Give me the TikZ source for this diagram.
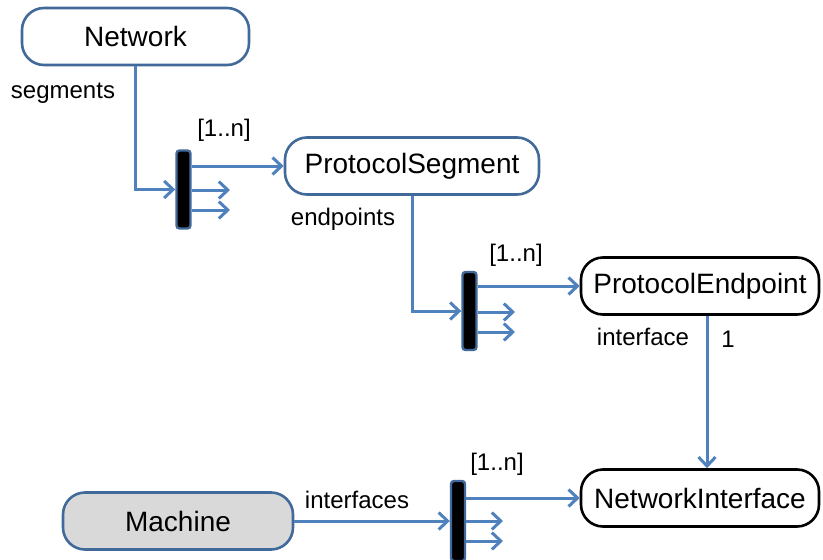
\documentclass[tikz,border=0pt]{standalone}
\usepackage{fontspec}
\setmainfont{Liberation Sans}
\usetikzlibrary{arrows.meta}
\definecolor{lineblue}{HTML}{4F81BD}
\definecolor{edgeblue}{HTML}{41699A}
\definecolor{machgray}{HTML}{D9D9D9}
\tikzset{
  cls/.style={draw=edgeblue, line width=2.6pt, rounded corners=22pt, minimum height=57pt, inner sep=0pt, font=\fontsize{28}{31}\selectfont, fill=white},
  bar/.style={draw=edgeblue, fill=black, line width=2.4pt, rounded corners=3pt, minimum width=14pt, minimum height=78pt, inner sep=0pt},
  conn/.style={draw=lineblue, line width=3pt, -{Straight Barb[length=9pt,width=17pt,line width=3pt]}},
  lbl/.style={font=\fontsize{24}{27}\selectfont, inner sep=0pt}
}
\begin{document}
\begin{tikzpicture}[x=1pt,y=-1pt]
\useasboundingbox (0,0) rectangle (823,560);
% class nodes
\node[cls, minimum width=227pt] (Net) at (135.5,36.5) {Network};
\node[cls, minimum width=254pt] (PS) at (412,166) {ProtocolSegment};
\node[cls, draw=black, minimum width=238pt] (PE) at (700,286) {ProtocolEndpoint};
\node[cls, draw=black, minimum width=238pt] (NI) at (700,498) {NetworkInterface};
\node[cls, fill=machgray, minimum width=230pt] (Mach) at (178,521) {Machine};
% bars
\node[bar] (bar1) at (183.5,189.5) {};
\node[bar] (bar2) at (469.5,311) {};
\node[bar, minimum height=80pt] (bar3) at (458,521) {};
% free ends
\coordinate (e1a) at (230,190);
\coordinate (e1b) at (230,210);
\coordinate (e2a) at (515,312);
\coordinate (e2b) at (515,332);
\coordinate (e3a) at (503,521);
\coordinate (e3b) at (503,541);
% connectors
\draw[conn] (Net.south) |- (bar1.west);
\draw[conn] (bar1.east |- PS.west) -- (PS.west);
\draw[conn] (bar1.east |- e1a) -- (e1a);
\draw[conn] (bar1.east |- e1b) -- (e1b);
\draw[conn] (PS.south) |- (bar2.west);
\draw[conn] (bar2.east |- PE.west) -- (PE.west);
\draw[conn] (bar2.east |- e2a) -- (e2a);
\draw[conn] (bar2.east |- e2b) -- (e2b);
\draw[conn] (PE.south -| 707,0) -- (NI.north -| 707,0);
\draw[conn] (Mach.east) -- (bar3.west);
\draw[conn] (bar3.east |- NI.west) -- (NI.west);
\draw[conn] (bar3.east |- e3a) -- (e3a);
\draw[conn] (bar3.east |- e3b) -- (e3b);
% labels
\node[lbl] (l1) at (63,93) {segments};
\node[lbl] (m1) at (224,130) {[1..n]};
\node[lbl] (l2) at (343,219) {endpoints};
\node[lbl] (m2) at (516,255) {[1..n]};
\node[lbl] (l3) at (643,337) {interface};
\node[lbl] (m3) at (728,339) {1};
\node[lbl] (l4) at (357,500) {interfaces};
\node[lbl] (m4) at (497,464) {[1..n]};
\end{tikzpicture}
\end{document}
